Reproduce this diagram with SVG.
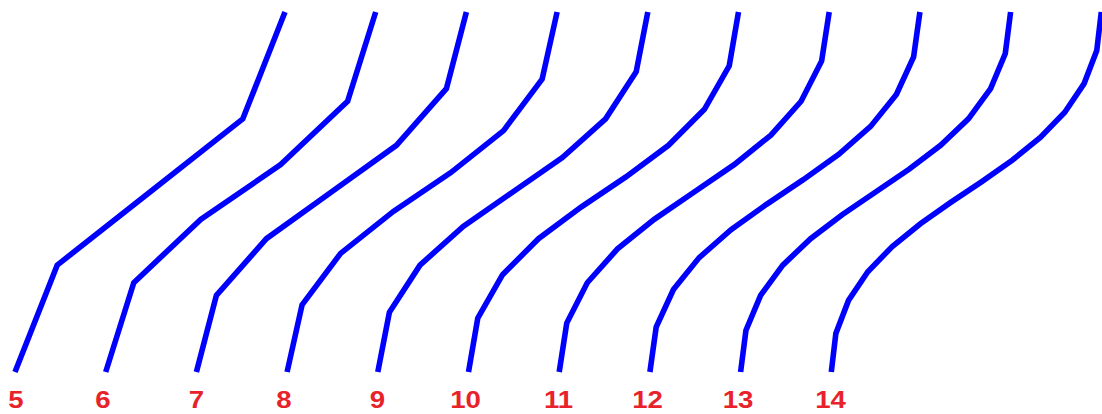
<svg xmlns="http://www.w3.org/2000/svg" width="1102" height="414" viewBox="0 0 1102 414">
<style>
.c{fill:none;stroke:#0000ff;stroke-width:5.6;stroke-linejoin:miter;stroke-linecap:butt}
.l{font-family:"Liberation Sans",Arial,sans-serif;font-weight:bold;font-size:23px;fill:#e8222a;text-anchor:middle}
</style>
<rect width="1102" height="414" fill="#fff"/>
<g id="connectors">
<polyline class="c" transform="translate(15,0)" points="0,372 42.19,265.12 135,192 227.81,118.88 270,12"/>
<polyline class="c" transform="translate(105.7,0)" points="0,372 28.08,282.72 95.04,219.36 174.96,164.64 241.92,101.28 270,12"/>
<polyline class="c" transform="translate(196.4,0)" points="0,372 20,295.33 70,238.67 135,192 200,145.33 250,88.67 270,12"/>
<polyline class="c" transform="translate(287.1,0)" points="0,372 14.96,304.83 53.53,253.4 106.27,211.42 163.73,172.58 216.47,130.6 255.04,79.17 270,12"/>
<polyline class="c" transform="translate(377.8,0)" points="0,372 11.6,312.23 42.19,265.12 85.43,226.45 135,192 184.57,157.55 227.81,118.88 258.4,71.77 270,12"/>
<polyline class="c" transform="translate(468.5,0)" points="0,372 9.26,318.17 34.07,274.72 70,238.67 112.59,207.06 157.41,176.94 200,145.33 235.93,109.28 260.74,65.83 270,12"/>
<polyline class="c" transform="translate(559.2,0)" points="0,372 7.56,323.04 28.08,282.72 58.32,248.88 95.04,219.36 135,192 174.96,164.64 211.68,135.12 241.92,101.28 262.44,60.96 270,12"/>
<polyline class="c" transform="translate(649.9,0)" points="0,372 6.29,327.1 23.53,289.51 49.29,257.59 81.14,229.73 116.64,204.31 153.36,179.69 188.86,154.27 220.71,126.41 246.47,94.49 263.71,56.9 270,12"/>
<polyline class="c" transform="translate(740.6,0)" points="0,372 5.31,330.54 20,295.33 42.19,265.12 70,238.67 101.56,214.71 135,192 168.44,169.29 200,145.33 227.81,118.88 250,88.67 264.69,53.46 270,12"/>
<polyline class="c" transform="translate(831.3,0)" points="0,372 4.55,333.49 17.21,300.39 36.5,271.72 60.96,246.48 89.1,223.71 119.45,202.41 150.55,181.59 180.9,160.29 209.04,137.52 233.5,112.28 252.79,83.61 265.45,50.51 270,12"/>
</g>
<g id="label-5"><text class="l" transform="translate(16,408) scale(1.2,1)">5</text></g>
<g id="label-6"><text class="l" transform="translate(103,408) scale(1.2,1)">6</text></g>
<g id="label-7"><text class="l" transform="translate(196.5,408) scale(1.2,1)">7</text></g>
<g id="label-8"><text class="l" transform="translate(284,408) scale(1.2,1)">8</text></g>
<g id="label-9"><text class="l" transform="translate(377.5,408) scale(1.2,1)">9</text></g>
<g id="label-10"><text class="l" transform="translate(465.5,408) scale(1.2,1)">10</text></g>
<g id="label-11"><text class="l" transform="translate(558.5,408) scale(1.2,1)">11</text></g>
<g id="label-12"><text class="l" transform="translate(647.5,408) scale(1.2,1)">12</text></g>
<g id="label-13"><text class="l" transform="translate(738,408) scale(1.2,1)">13</text></g>
<g id="label-14"><text class="l" transform="translate(830.5,408) scale(1.2,1)">14</text></g>
</svg>
